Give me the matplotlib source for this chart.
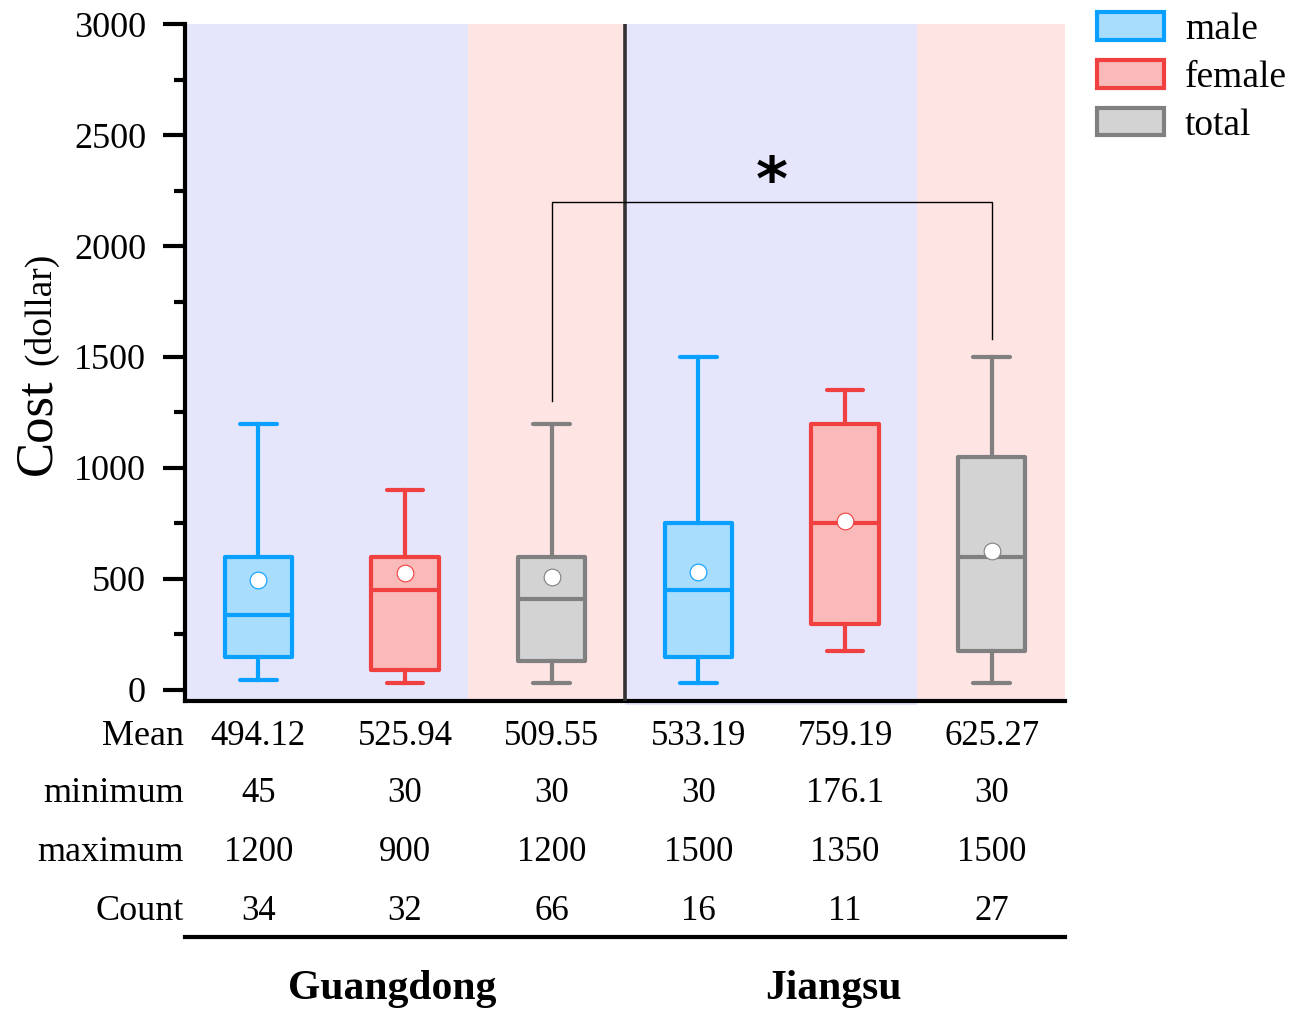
import matplotlib
matplotlib.use("Agg")
import matplotlib.pyplot as plt
import matplotlib.transforms as mtransforms
from matplotlib.patches import Patch

# ========================
# Datos
# ========================

grupos = ["male", "female", "total", "male", "female", "total"]
provincias = ["Guangdong", "Jiangsu"]

minimo = [45, 30, 30, 30, 176.1, 30]
q1 = [148, 88, 130, 148, 295, 175]
mediana = [338, 450, 410, 450, 750, 600]
q3 = [600, 600, 600, 750, 1200, 1050]
maximo = [1200, 900, 1200, 1500, 1350, 1500]
media = [494.12, 525.94, 509.55, 533.19, 759.19, 625.27]
conteo = [34, 32, 66, 16, 11, 27]

fila_media = ["494.12", "525.94", "509.55", "533.19", "759.19", "625.27"]
fila_min = ["45", "30", "30", "30", "176.1", "30"]
fila_max = ["1200", "900", "1200", "1500", "1350", "1500"]
fila_conteo = [str(c) for c in conteo]

# estilos
borde = {"male": "#0AA0FF", "female": "#F0403F", "total": "#808080"}
relleno = {"male": "#A8DDFD", "female": "#FABABA", "total": "#D3D3D3"}
LAVANDA = "#E5E5FB"
ROSA = "#FFE4E4"

plt.rcParams["font.family"] = ["Liberation Serif", "Noto Sans CJK SC"]

fig = plt.figure(figsize=(13.01, 10.11), dpi=100)
ax = fig.add_axes([0.1422, 0.3066, 0.6764, 0.6696])

pos = list(range(1, 7))

# fondos
ax.axvspan(0.5, 2.43, color=LAVANDA, zorder=0, lw=0)
ax.axvspan(2.43, 3.5, color=ROSA, zorder=0, lw=0)
ax.axvspan(3.5, 5.49, ymin=-0.006, ymax=1, color=LAVANDA, zorder=0, lw=0, clip_on=False)
ax.axvspan(5.49, 6.5, color=ROSA, zorder=0, lw=0)

stats = []
for i in range(6):
    stats.append({
        "whislo": minimo[i], "q1": q1[i], "med": mediana[i],
        "q3": q3[i], "whishi": maximo[i], "mean": media[i], "fliers": [],
    })

for i, st in enumerate(stats):
    g = grupos[i]
    c = borde[g]
    ax.bxp([st], positions=[pos[i]], widths=0.46, showmeans=True,
           patch_artist=True, showfliers=False,
           boxprops=dict(facecolor=relleno[g], edgecolor=c, linewidth=3, joinstyle="round"),
           medianprops=dict(color=c, linewidth=3),
           whiskerprops=dict(color=c, linewidth=3),
           capprops=dict(color=c, linewidth=3, solid_capstyle="round"),
           capwidths=0.25,
           meanprops=dict(marker="o", markerfacecolor="white", markeredgecolor=c,
                          markeredgewidth=0.8, markersize=12),
           manage_ticks=False)

# separador entre provincias
ax.axvline(3.5, color="#333333", lw=2.6, zorder=3)

# corchete de significancia
x1, x2, y_top = 3, 6, 2200
ax.plot([x1, x1, x2, x2], [1300, y_top, y_top, 1580], color="black", lw=1, zorder=4)
ax.text(4.5, 2280, "*", ha="center", va="center", fontsize=44,
        family="DejaVu Sans", fontweight="bold", zorder=4)

ax.set_xlim(0.5, 6.5)
ax.set_ylim(-50, 3000)
ax.set_yticks([0, 500, 1000, 1500, 2000, 2500, 3000])
ax.set_yticks([250, 750, 1250, 1750, 2250, 2750], minor=True)
ax.tick_params(axis="y", which="major", length=16, width=3, labelsize=26, pad=12)
ax.tick_params(axis="y", which="minor", length=8, width=3)
ax.set_xticks([])
for s in ["top", "right"]:
    ax.spines[s].set_visible(False)
ax.spines["left"].set_linewidth(3)
ax.spines["bottom"].set_linewidth(3)

# etiqueta del eje y
fig.text(0.0384, 0.530, "Cost", rotation=90, rotation_mode="anchor",
         ha="left", va="baseline", fontsize=38, family="Liberation Serif")
fig.text(0.0384, 0.639, "(dollar)", rotation=90, rotation_mode="anchor",
         ha="left", va="baseline", fontsize=27, family="Liberation Serif")

# tabla bajo el eje
trans = mtransforms.blended_transform_factory(ax.transData, ax.transAxes)
filas = [("Mean", fila_media, -0.052), ("minimum", fila_min, -0.137),
         ("maximum", fila_max, -0.224), ("Count", fila_conteo, -0.311)]
for nombre, valores, yy in filas:
    ax.text(0.49, yy, nombre, transform=trans, ha="right", va="center", fontsize=26)
    for p, v in zip(pos, valores):
        ax.text(p, yy, v, transform=trans, ha="center", va="center", fontsize=25)

ax.plot([0.5, 6.5], [-0.349, -0.349], transform=trans, color="black", lw=3, clip_on=False)
ax.text(1.91, -0.425, provincias[0], transform=trans, ha="center", va="center",
        fontsize=30, fontweight="bold")
ax.text(4.92, -0.425, provincias[1], transform=trans, ha="center", va="center",
        fontsize=30, fontweight="bold")

# leyenda
handles = [Patch(facecolor=relleno[k], edgecolor=borde[k], linewidth=3, label=k)
           for k in ["male", "female", "total"]]
fig.legend(handles=handles, loc="upper left", bbox_to_anchor=(0.843, 0.988),
           frameon=False, fontsize=27, handlelength=1.8, handleheight=0.75,
           labelspacing=0.35, handletextpad=0.55, borderaxespad=0, borderpad=0)

fig.savefig("out.png", dpi=100)
